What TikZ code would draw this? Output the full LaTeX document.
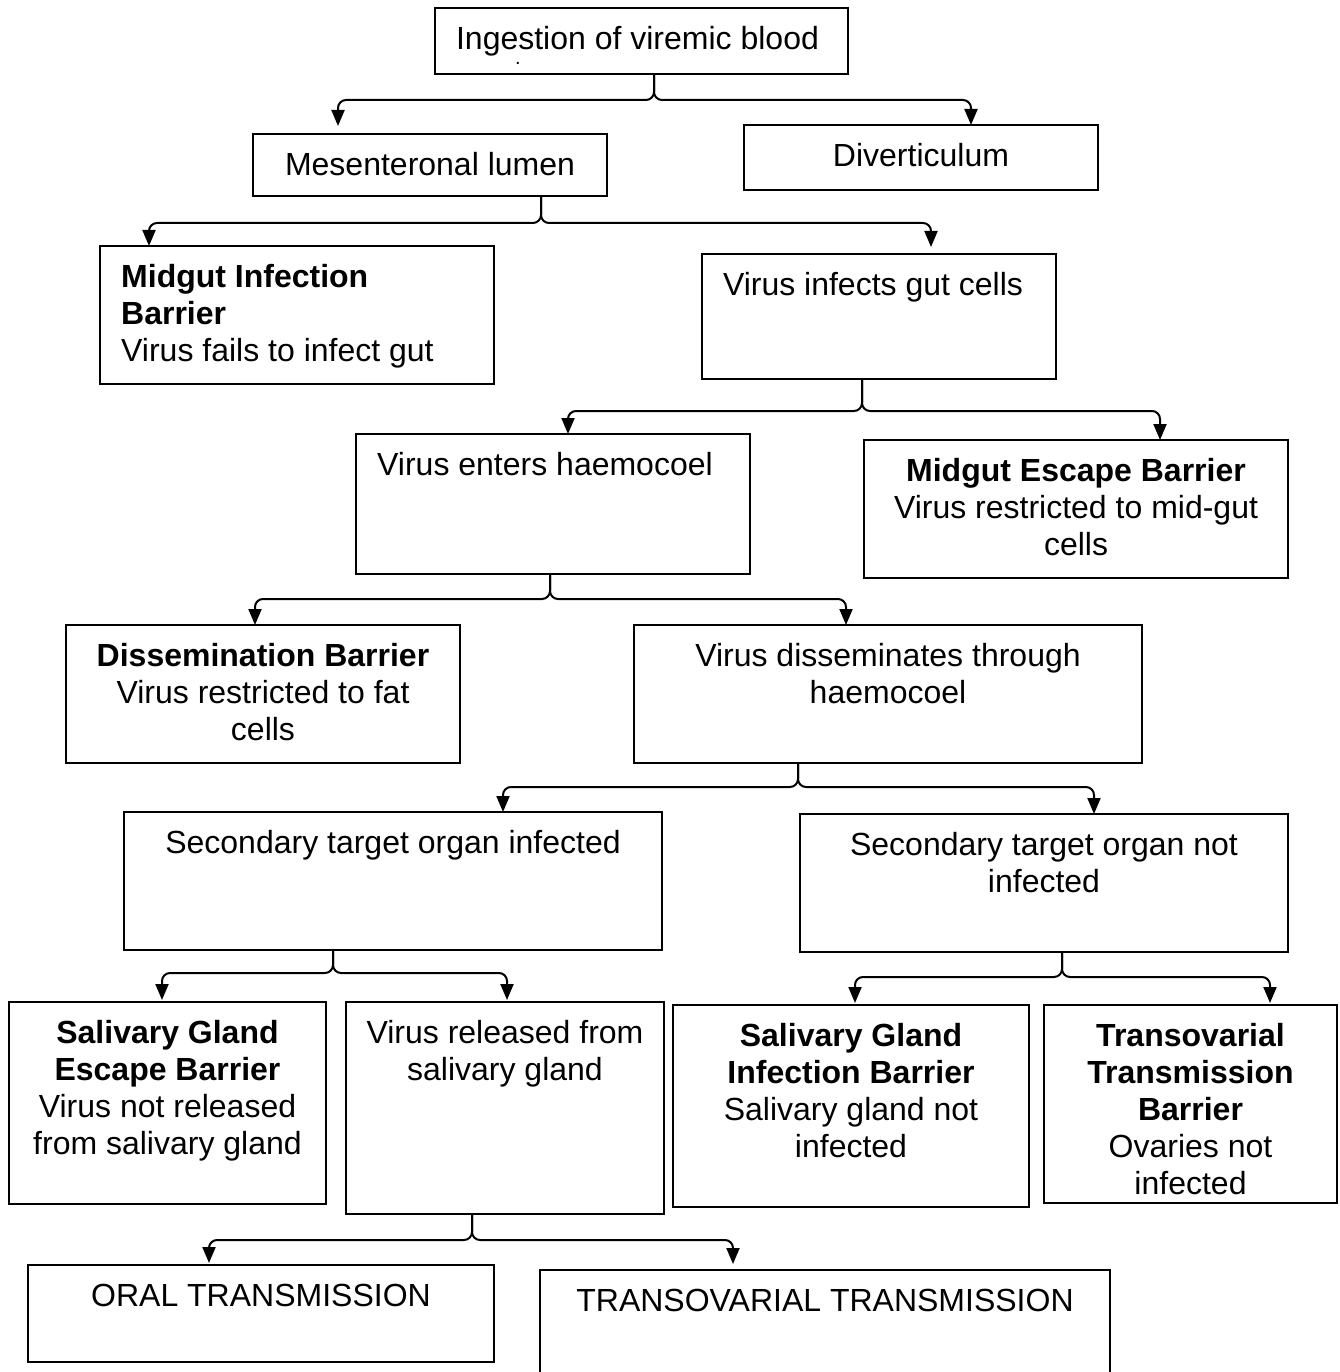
\documentclass[tikz,border=0pt]{standalone}
\usepackage{fontspec}
\setmainfont{Liberation Sans}
\usetikzlibrary{arrows.meta}
\tikzset{
  box/.style={draw, line width=2pt, inner sep=0pt, outer sep=0pt},
  txt/.style={anchor=north, yshift=-13pt, align=center, inner sep=0pt},
  conn/.style={line width=2pt, rounded corners=8pt, -{Triangle[width=13pt,length=16pt]}},
}
\newcommand\fs{\rule{0pt}{28pt}}
% name, left, top, right, bottom, text xshift, text
\newcommand\bx[7]{\node[box, minimum width={#4pt-#2pt}, minimum height={#5pt-#3pt},
  label={[txt, xshift=#6pt]north:{\fs#7}}] (#1) at ({(#2+#4)/2},{(#3+#5)/2}) {};}
% parent, stem xshift, bar y, child, tip xshift, tip yshift
\newcommand\branch[6]{%
  \path ([xshift=#2pt]#1.south) coordinate (tmpA)
        (0,#3) coordinate (tmpC)
        ([xshift=#5pt,yshift=#6pt]#4.north) coordinate (tmpB);
  \draw[conn] (tmpA) -- (tmpA |- tmpC) -| (tmpB);}
\begin{document}
\begin{tikzpicture}[x=1pt, y=-1pt, font=\fontsize{32}{37}\selectfont]
\useasboundingbox (0,0) rectangle (1339,1372);
\bx{ing}{435}{8}{848}{74}{-4}{Ingestion of viremic blood}
\node[inner sep=0pt, font=\fontsize{20}{20}\selectfont] (dot) at (518,63) {.};
\bx{mes}{253}{134}{607}{196}{0}{Mesenteronal lumen}
\bx{div}{744}{125}{1098}{190}{0}{Diverticulum}
\node[box, minimum width=394pt, minimum height=138pt,
  label={[txt, anchor=north west, align=left, xshift=21pt]north west:{\fs\textbf{Midgut Infection}\\\textbf{Barrier}\\Virus fails to infect gut}}]
  (mib) at (297,315) {};
\bx{vig}{702}{254}{1056}{379}{-6}{Virus infects gut cells}
\bx{veh}{356}{434}{750}{574}{-8}{Virus enters haemocoel}
\bx{meb}{864}{440}{1288}{578}{0}{\textbf{Midgut Escape Barrier}\\Virus restricted to mid-gut\\cells}
\bx{db}{66}{625}{460}{763}{0}{\textbf{Dissemination Barrier}\\Virus restricted to fat\\cells}
\bx{vdh}{634}{625}{1142}{763}{0}{Virus disseminates through\\haemocoel}
\bx{sti}{124}{812}{662}{950}{0}{Secondary target organ infected}
\bx{stn}{800}{814}{1288}{952}{0}{Secondary target organ not\\infected}
\bx{sgeb}{9}{1002}{326}{1204}{0}{\textbf{Salivary Gland}\\\textbf{Escape Barrier}\\Virus not released\\from salivary gland}
\bx{vrs}{346}{1002}{664}{1214}{0}{Virus released from\\salivary gland}
\bx{sgib}{673}{1005}{1029}{1207}{0}{\textbf{Salivary Gland}\\\textbf{Infection Barrier}\\Salivary gland not\\infected}
\bx{ttb}{1044}{1005}{1337}{1203}{0}{\textbf{Transovarial}\\\textbf{Transmission}\\\textbf{Barrier}\\Ovaries not\\infected}
\bx{oral}{28}{1265}{494}{1362}{0}{ORAL TRANSMISSION}
\bx{tov}{540}{1270}{1110}{1376}{0}{TRANSOVARIAL TRANSMISSION}
%
\branch{ing}{12.5}{100}{mes}{-92}{8}
\branch{ing}{12.5}{100}{div}{50}{0}
\branch{mes}{111}{223}{mib}{-148}{0}
\branch{mes}{111}{223}{vig}{52}{7}
\branch{vig}{-17}{411}{veh}{15}{0}
\branch{vig}{-17}{411}{meb}{84}{0}
\branch{veh}{-3}{599}{db}{-8}{0}
\branch{veh}{-3}{599}{vdh}{-42}{0}
\branch{vdh}{-90}{787}{sti}{110}{0}
\branch{vdh}{-90}{787}{stn}{50}{0}
\branch{sti}{-60}{973}{sgeb}{-5.5}{2}
\branch{sti}{-60}{973}{vrs}{2}{2}
\branch{stn}{18}{977}{sgib}{4}{2}
\branch{stn}{18}{977}{ttb}{79.5}{2}
\branch{vrs}{-33}{1240}{oral}{-52}{2}
\branch{vrs}{-33}{1240}{tov}{-92}{6}
\end{tikzpicture}
\end{document}
